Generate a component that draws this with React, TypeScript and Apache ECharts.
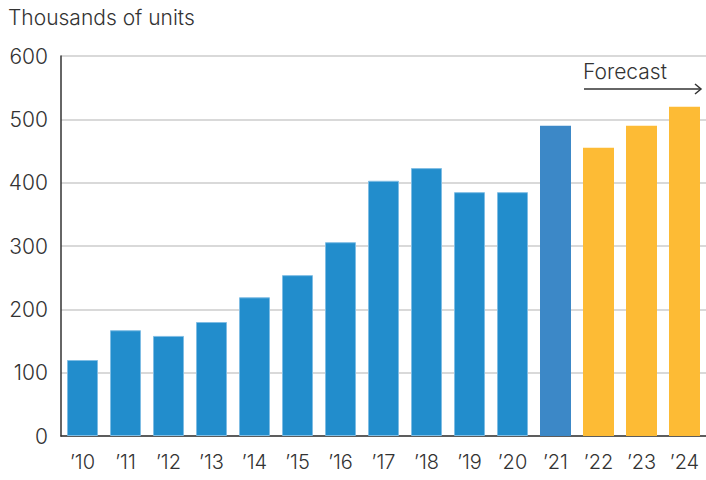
import React, { useEffect, useRef } from "react";
import * as echarts from "echarts";

const categories = ["’10", "’11", "’12", "’13", "’14", "’15", "’16", "’17", "’18", "’19", "’20", "’21", "’22", "’23", "’24"];
const values = [120, 167, 158, 180, 219, 254, 306, 403, 423, 385, 385, 490, 455, 490, 520];
const yTicks = [0, 100, 200, 300, 400, 500, 600];
const forecastStart = "’22";
const highlightYear = "’21";
const titleText = "Thousands of units";
const forecastText = "Forecast";

const FONT = "Inter, 'Noto Sans', sans-serif";
const W = 300;

export default function App() {
  const ref = useRef<HTMLDivElement>(null);
  useEffect(() => {
    document.body.style.margin = "0";
    const chart = echarts.init(ref.current!, null, { renderer: "svg" });
    const fIdx = categories.indexOf(forecastStart);
    const data = values.map((v, i) => {
      const c = categories[i];
      if (i >= fIdx) return { value: v, itemStyle: { color: "#FDBB35", borderWidth: 0 } };
      if (c === highlightYear) return { value: v, itemStyle: { color: "#3C88C7", borderWidth: 0 } };
      return { value: v, itemStyle: { color: "#228DCC", borderColor: "#7FBDE4", borderWidth: 1 } };
    });
    chart.setOption({
      animation: false,
      textStyle: { fontFamily: FONT, fontWeight: W },
      grid: { left: 61, right: 0, top: 56, bottom: 44 },
      xAxis: {
        type: "category",
        data: categories,
        axisLine: { show: true, lineStyle: { color: "#333", width: 1.5 } },
        axisTick: { show: false },
        axisLabel: { color: "#333", fontSize: 20, margin: 16, fontFamily: FONT, fontWeight: W },
      },
      yAxis: {
        type: "value",
        min: yTicks[0],
        max: yTicks[yTicks.length - 1],
        interval: 100,
        axisLine: { show: true, lineStyle: { color: "#333", width: 1.5 } },
        axisTick: { show: false },
        axisLabel: { color: "#333", fontSize: 21, margin: 13, fontFamily: FONT, fontWeight: W },
        splitLine: { show: true, lineStyle: { color: "#cccccc", width: 1.5 } },
      },
      series: [
        {
          type: "bar",
          data,
          barWidth: 31,
        },
      ],
      graphic: [
        {
          type: "text",
          left: 8,
          top: 7,
          style: { text: titleText, fontSize: 21, fill: "#333", fontFamily: FONT, fontWeight: W },
        },
        {
          type: "text",
          left: 583,
          top: 61,
          style: { text: forecastText, fontSize: 21, fill: "#333", fontFamily: FONT, fontWeight: W },
        },
        {
          type: "line",
          shape: { x1: 584, y1: 89, x2: 701, y2: 89 },
          style: { stroke: "#333", lineWidth: 1.5 },
        },
        {
          type: "polyline",
          shape: { points: [[695, 84], [701, 89], [695, 94]] },
          style: { stroke: "#333", lineWidth: 1.5, fill: "none" },
        },
      ],
    });
    return () => chart.dispose();
  }, []);
  return <div ref={ref} style={{ width: 706, height: 480 }} />;
}
